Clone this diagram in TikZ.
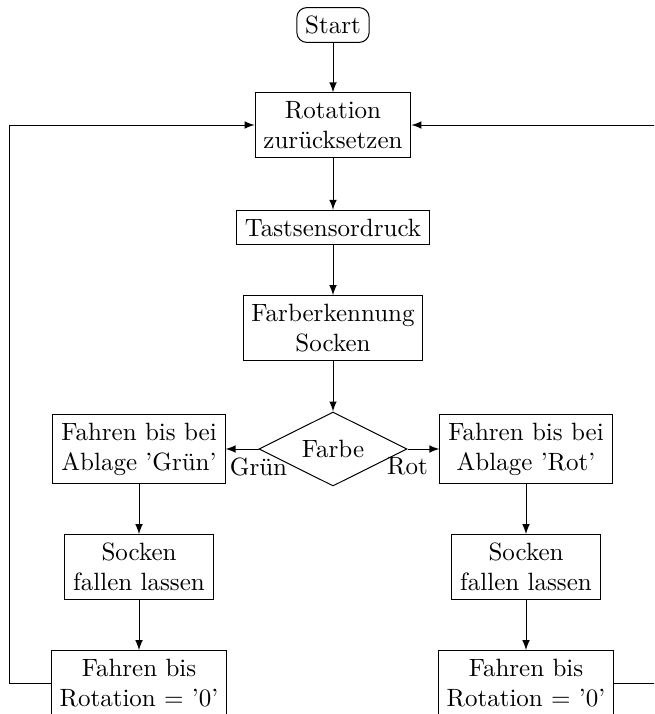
\documentclass[tikz,border=0pt]{standalone}
\usetikzlibrary{shapes.geometric,arrows}
\begin{document}
\begin{tikzpicture}[x=0.4pt,y=-0.4pt,>=latex,
  box/.style={draw,align=center,fill=white},
  startbox/.style={draw,rounded corners=4pt,align=center},
  decide/.style={draw,diamond,aspect=2,minimum width=59.2pt,minimum height=29.6pt,inner sep=0pt},
  flow/.style={->}]
\useasboundingbox (0,0) rectangle (654,714);
\clip (0,0) rectangle (654,714);
\node[startbox] (start) at (333,25) {Start};
\node[box] (rot) at (333,125) {Rotation\\zurücksetzen};
\node[box] (tast) at (333,227.5) {Tastsensordruck};
\node[box] (farb) at (333,328) {Farberkennung\\Socken};
\node[decide] (dec) at (333,449) {Farbe};
\node[box] (l1) at (139,449) {Fahren bis bei\\Ablage ’Grün’};
\node[box] (r1) at (526,449) {Fahren bis bei\\Ablage ’Rot’};
\node[box] (l2) at (139,567) {Socken\\fallen lassen};
\node[box] (r2) at (526,567) {Socken\\fallen lassen};
\node[box] (l3) at (139,683) {Fahren bis\\Rotation $=$ ’0’};
\node[box] (r3) at (526,683) {Fahren bis\\Rotation $=$ ’0’};
\coordinate (lc) at (9,0);
\coordinate (rc) at (680,0);
\draw[flow] (start) -- (rot);
\draw[flow] (rot) -- (tast);
\draw[flow] (tast) -- (farb);
\draw[flow] (farb) -- (dec);
\draw[flow] (dec.west) -- node[pos=0,below] {Grün} (l1);
\draw[flow] (dec.east) -- node[pos=0,below] {Rot} (r1);
\draw[flow] (l1) -- (l2);
\draw[flow] (r1) -- (r2);
\draw[flow] (l2) -- (l3);
\draw[flow] (r2) -- (r3);
\draw[flow] (l3.west) -- (l3.west -| lc) -- (rot.west -| lc) -- (rot.west);
\draw[flow] (r3.east) -- (r3.east -| rc) -- (rot.east -| rc) -- (rot.east);
\end{tikzpicture}
\end{document}
